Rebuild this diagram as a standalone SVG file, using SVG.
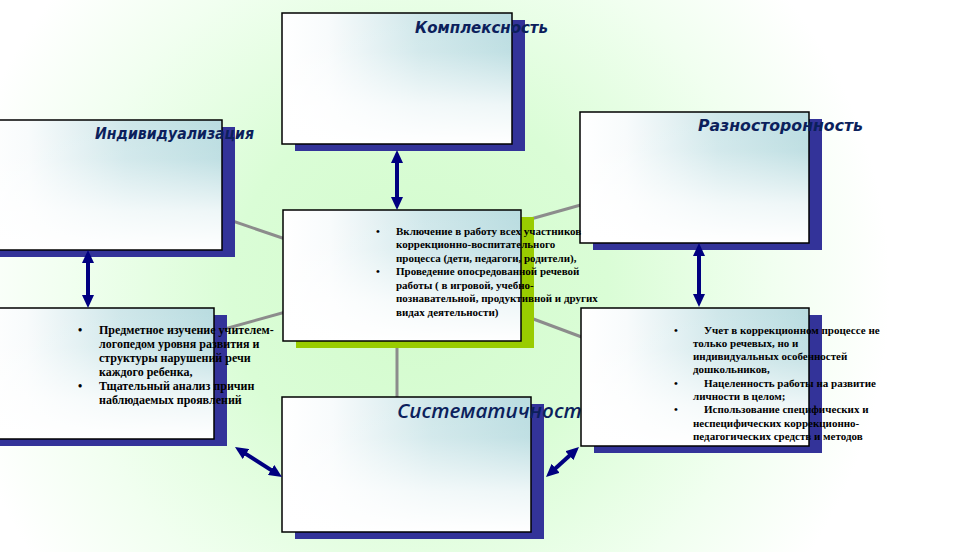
<svg xmlns="http://www.w3.org/2000/svg" width="964" height="552" viewBox="0 0 964 552">
<defs>
<radialGradient id="bg" gradientUnits="userSpaceOnUse" cx="420" cy="290" r="470">
<stop offset="0" stop-color="#d3fbcd"/>
<stop offset="0.4" stop-color="#dafdd6"/>
<stop offset="0.75" stop-color="#f1fff0"/>
<stop offset="1" stop-color="#ffffff"/>
</radialGradient>
<linearGradient id="hg" x1="0" y1="0" x2="1" y2="0">
<stop offset="0" stop-color="#ffffff"/>
<stop offset="0.2" stop-color="#f8fbfc"/>
<stop offset="0.6" stop-color="#cfe7ea"/>
<stop offset="1" stop-color="#b9dce0"/>
</linearGradient>
<linearGradient id="vg" x1="0" y1="0" x2="0" y2="1">
<stop offset="0" stop-color="#ffffff" stop-opacity="0"/>
<stop offset="0.3" stop-color="#ffffff" stop-opacity="0.1"/>
<stop offset="0.7" stop-color="#ffffff" stop-opacity="0.75"/>
<stop offset="1" stop-color="#ffffff" stop-opacity="1"/>
</linearGradient>
<marker id="ah" viewBox="0 0 13 12" refX="3" refY="6" markerWidth="13" markerHeight="12" markerUnits="userSpaceOnUse" orient="auto-start-reverse">
<path d="M0,0 L13,6 L0,12 z" fill="#000080"/>
</marker>
<style>
.bx{fill:url(#hg)}
.box{fill:url(#vg);stroke:#000;stroke-width:1.5}
.sh{fill:#333399}
.shg{fill:#99cc00}
.title{font-family:"DejaVu Sans",Verdana,sans-serif;font-style:italic;font-weight:bold;font-size:15px;fill:#0c1f5c}
.title2{font-family:"Open Sans","DejaVu Sans",sans-serif;font-style:italic;font-weight:600;font-size:20px;fill:#0c1f5c}
.t{font-family:"Liberation Serif","Times New Roman",serif;font-weight:bold;font-size:11px;fill:#000}
.t12{font-family:"Liberation Serif","Times New Roman",serif;font-weight:bold;font-size:12px;fill:#000}
.ln{stroke:#8c8c8c;stroke-width:3;fill:none}
.ar{stroke:#000080;stroke-width:4;fill:none;marker-start:url(#ah);marker-end:url(#ah)}
</style>
</defs>
<rect x="0" y="0" width="964" height="552" fill="url(#bg)"/>
<g id="connectors-lines">
<line class="ln" x1="215" y1="215" x2="300" y2="244"/>
<line class="ln" x1="520" y1="222" x2="595" y2="201"/>
<line class="ln" x1="210" y1="333" x2="300" y2="308"/>
<line class="ln" x1="520" y1="314" x2="595" y2="342"/>
<line class="ln" x1="397" y1="335" x2="397" y2="400"/>
</g>
<g id="node-kompleksnost">
<rect class="sh" x="295" y="20" width="230" height="131"/>
<rect class="bx" x="282" y="13" width="230" height="131"/>
<rect class="box" x="282" y="13" width="230" height="131"/>
<text class="title" x="415" y="33" textLength="133" lengthAdjust="spacingAndGlyphs">Комплексность</text>
</g>
<g id="node-individualizaciya">
<rect class="sh" x="-7" y="127" width="242" height="130"/>
<rect class="bx" x="-20" y="120" width="242" height="130"/>
<rect class="box" x="-20" y="120" width="242" height="130"/>
<text class="title" x="95" y="139" textLength="159" lengthAdjust="spacingAndGlyphs">Индивидуализация</text>
</g>
<g id="node-raznostoronnost">
<rect class="sh" x="593" y="119" width="229" height="131"/>
<rect class="bx" x="580" y="112" width="229" height="131"/>
<rect class="box" x="580" y="112" width="229" height="131"/>
<text class="title" x="698" y="131" textLength="165" lengthAdjust="spacingAndGlyphs">Разносторонность</text>
</g>
<g id="node-sistematichnost">
<rect class="sh" x="295" y="404" width="249" height="135"/>
<rect class="bx" x="282" y="397" width="249" height="135"/>
<rect class="box" x="282" y="397" width="249" height="135"/>
<text class="title2" x="397" y="418" textLength="196" lengthAdjust="spacingAndGlyphs">Систематичность</text>
</g>
<g id="node-left-text">
<rect class="sh" x="-7" y="315" width="234" height="131"/>
<rect class="bx" x="-20" y="308" width="234" height="131"/>
<rect class="box" x="-20" y="308" width="234" height="131"/>
<g class="t12">
<text x="78" y="334">•</text>
<text x="99" y="334">Предметное изучение учителем-</text>
<text x="99" y="348">логопедом уровня развития и</text>
<text x="99" y="362">структуры нарушений речи</text>
<text x="99" y="376">каждого ребенка,</text>
<text x="78" y="390">•</text>
<text x="99" y="390">Тщательный анализ причин</text>
<text x="99" y="404">наблюдаемых проявлений</text>
</g>
</g>
<g id="node-right-text">
<rect class="sh" x="594" y="315" width="228" height="138"/>
<rect class="bx" x="581" y="308" width="228" height="138"/>
<rect class="box" x="581" y="308" width="228" height="138"/>
<g class="t">
<text x="674" y="333.5">•</text>
<text x="704" y="333.5">Учет в коррекционном процессе не</text>
<text x="693" y="346.8">только речевых, но и</text>
<text x="693" y="360.1">индивидуальных особенностей</text>
<text x="693" y="373.4">дошкольников,</text>
<text x="674" y="386.7">•</text>
<text x="704" y="386.7">Нацеленность работы на развитие</text>
<text x="693" y="400">личности в целом;</text>
<text x="674" y="413.3">•</text>
<text x="704" y="413.3">Использование специфических и</text>
<text x="693" y="426.6">неспецифических  коррекционно-</text>
<text x="693" y="439.9">педагогических средств и методов</text>
</g>
</g>
<g id="node-center">
<rect class="shg" x="296" y="217" width="238" height="131"/>
<rect class="bx" x="283" y="210" width="238" height="131"/>
<rect class="box" x="283" y="210" width="238" height="131"/>
<g class="t">
<text x="376" y="234.5">•</text>
<text x="396" y="234.5">Включение в работу всех участников</text>
<text x="396" y="248">коррекционно-воспитательного</text>
<text x="396" y="261.6">процесса (дети, педагоги, родители),</text>
<text x="376" y="275.2">•</text>
<text x="396" y="275.2">Проведение опосредованной речевой</text>
<text x="396" y="288.8">работы ( в игровой, учебно-</text>
<text x="396" y="302.4">познавательной, продуктивной и других</text>
<text x="396" y="316">видах деятельности)</text>
</g>
</g>
<g id="connectors-arrows">
<line class="ar" x1="397" y1="160" x2="397" y2="200"/>
<line class="ar" x1="88" y1="260" x2="88" y2="298"/>
<line class="ar" x1="699" y1="253" x2="699" y2="297"/>
<line class="ar" x1="243.4" y1="452.4" x2="273.6" y2="471.6"/>
<line class="ar" x1="553.4" y1="470.3" x2="571.6" y2="453.7"/>
</g>
</svg>
